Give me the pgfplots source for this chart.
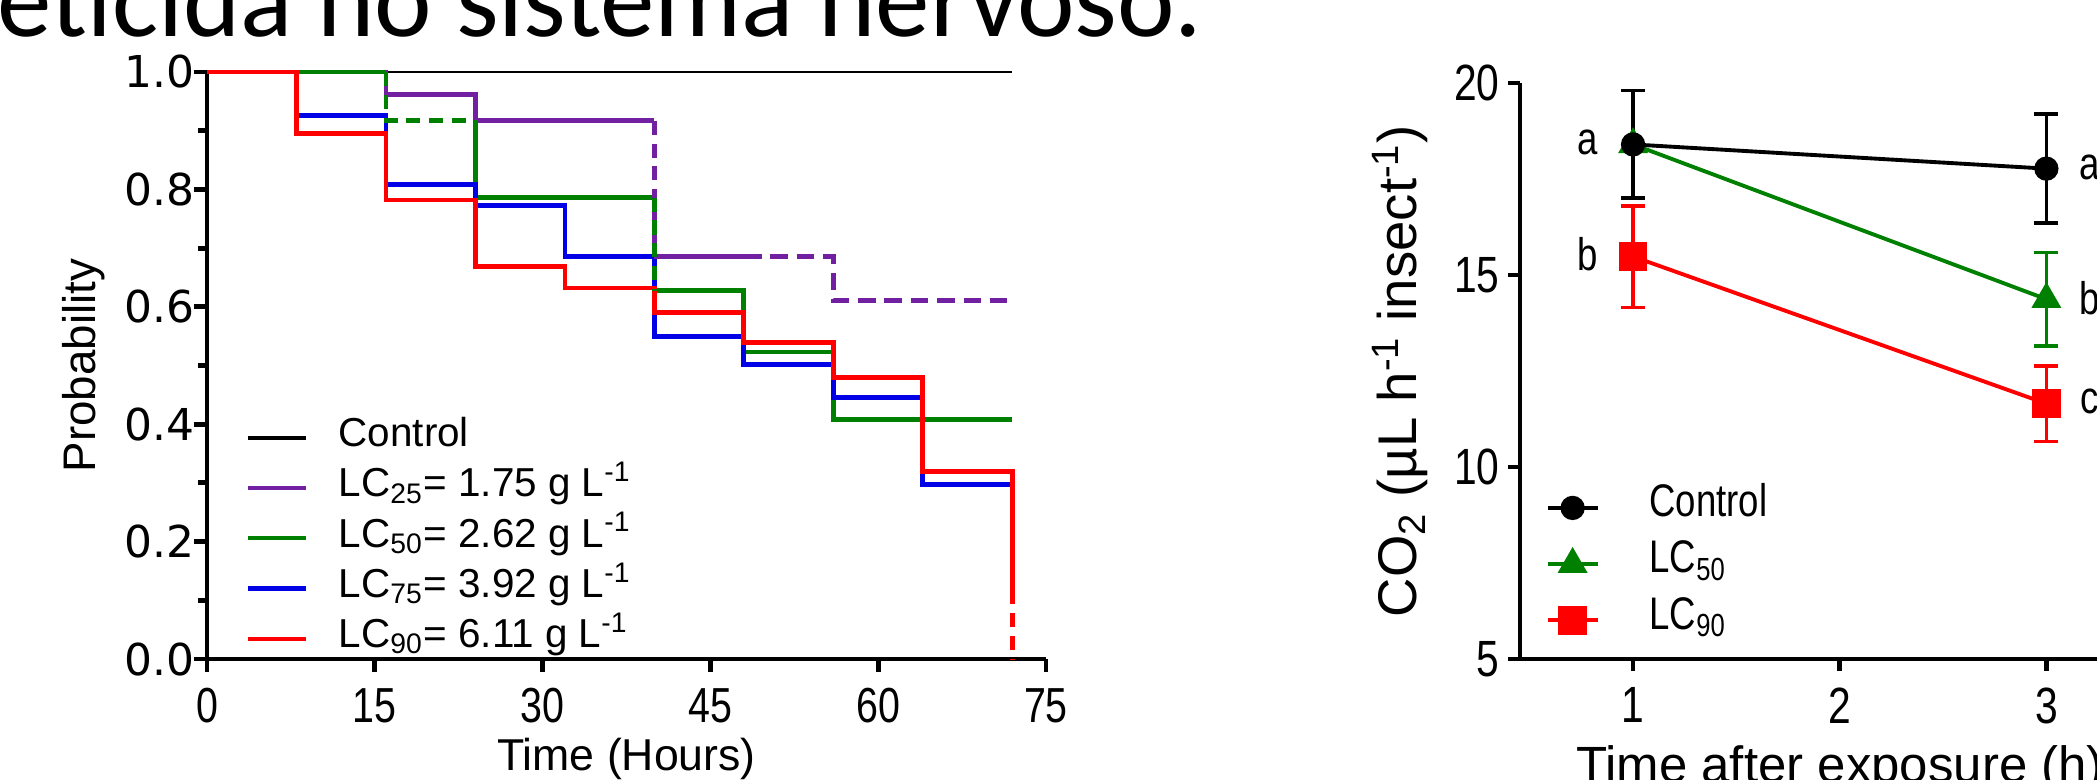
\documentclass[border=0pt]{standalone}
\usepackage{fontspec}
\setmainfont{Liberation Sans}
\newfontfamily\wide{DejaVu Sans}
\newfontfamily\slide{Carlito}
\usepackage{graphicx}
\usepackage{pgfplots}
\pgfplotsset{compat=1.18}

\definecolor{kmpurple}{RGB}{112,32,160}
\definecolor{kmgreen}{RGB}{0,128,0}
\definecolor{kmblue}{RGB}{0,0,230}
\definecolor{kmred}{RGB}{255,0,0}
\newcommand{\fs}[1]{\fontsize{#1}{#1}\selectfont}
\newcommand{\nar}[1]{\scalebox{0.8}[1]{#1}}

\begin{document}
\begin{tikzpicture}
\useasboundingbox (0,0) rectangle (20.97,7.79);
% slide text, cut by the top edge
\node[anchor=base west, inner sep=0pt, font=\slide\fs{31pt}] at (-0.03,7.42) {eticida no sistema nervoso.};

% survival curves
\begin{axis}[
  at={(2.07cm,1.20cm)}, anchor=south west, scale only axis,
  width=8.39cm, height=5.87cm,
  xmin=0, xmax=75, ymin=0, ymax=1,
  axis lines=left, axis line style={-, line width=1.4pt},
  clip=false,
  xtick={0,15,30,45,60,75}, xticklabels={\nar{0},\nar{15},\nar{30},\nar{45},\nar{60},\nar{75}},
  ytick={0,0.2,0.4,0.6,0.8,1}, yticklabels={0.0,0.2,0.4,0.6,0.8,1.0},
  minor ytick={0.1,0.3,0.5,0.7,0.9},
  tick align=outside, major tick length=0.13cm, minor tick length=0.09cm,
  tick style={black, line width=1.4pt},
  minor tick style={black, line width=1.4pt},
  xticklabel style={font=\fs{14pt}, yshift=-0.04cm},
  yticklabel style={font=\wide\fs{12.5pt}, inner sep=1pt, xshift=0.05cm},
  xlabel={Time (Hours)}, ylabel={Probability},
  xlabel style={font=\fs{12.7pt}, at={(axis description cs:0.5,-0.17)}, anchor=center},
  ylabel style={font=\fs{13pt}, at={(axis description cs:-0.147,0.5)}, anchor=center},
  legend style={draw=none, fill=none, at={(axis description cs:0.045,0.408)}, anchor=north west,
    font=\fs{11.5pt}, inner sep=0pt, row sep=4.3pt,
    nodes={inner sep=0pt, text height=0.75em, text depth=0.25em},
    /tikz/every odd column/.style={column sep=0.31cm}},
  legend cell align=left,
  legend image code/.code={\draw[#1, line width=1.2pt] (0cm,0cm) -- (0.58cm,0cm);},
]
\addplot[black, line width=0.8pt] coordinates {(0,1) (72,1)};
\addlegendentry{Control}
\addplot[kmpurple, line width=1.4pt, const plot] coordinates {(0,1) (16,0.962) (24,0.917) (40,0.917)};
\addlegendentry{LC\textsubscript{25}= 1.75 g L\textsuperscript{-1}}
\addplot[kmgreen, line width=1.4pt] coordinates {(0,1) (16,1)};
\addlegendentry{LC\textsubscript{50}= 2.62 g L\textsuperscript{-1}}
\addplot[kmgreen, line width=1.4pt, const plot, forget plot] coordinates {(24,0.918) (24,0.786) (40,0.786)};
\addplot[kmgreen, line width=1.4pt, const plot, forget plot] coordinates {(40,0.627) (48,0.523) (56,0.408) (72,0.408)};
\addplot[kmblue, line width=1.4pt, const plot] coordinates {(0,1) (8,0.926) (16,0.809) (24,0.772) (32,0.685) (40,0.549) (48,0.502) (56,0.445) (64,0.297) (72,0.297)};
\addlegendentry{LC\textsubscript{75}= 3.92 g L\textsuperscript{-1}}
\addplot[kmred, line width=1.4pt, const plot] coordinates {(0,1) (8,0.895) (16,0.782) (24,0.668) (32,0.632) (40,0.590) (48,0.539) (56,0.479) (64,0.320) (72,0.117)};
\addlegendentry{LC\textsubscript{90}= 6.11 g L\textsuperscript{-1}}
% dashed stretches
\addplot[kmpurple, line width=1.4pt, dash pattern=on 4pt off 2.5pt, forget plot] coordinates {(40,0.917) (40,0.685)};
\addplot[kmpurple, line width=1.4pt, forget plot] coordinates {(40,0.685) (48,0.685)};
\addplot[kmpurple, line width=1.4pt, dash pattern=on 5pt off 2.5pt, forget plot] coordinates {(48,0.685) (56,0.685) (56,0.610) (72,0.610)};
\addplot[kmgreen, line width=1.4pt, dash pattern=on 4pt off 2.5pt, forget plot] coordinates {(16,1) (16,0.918) (24,0.918)};
\addplot[kmgreen, line width=1.4pt, dash pattern=on 4pt off 2.5pt, forget plot] coordinates {(40,0.786) (40,0.627)};
\addplot[kmred, line width=1.4pt, dash pattern=on 4pt off 2.5pt, forget plot] coordinates {(72,0.117) (72,0)};
\end{axis}

% CO2 production
\begin{axis}[
  at={(15.20cm,1.20cm)}, anchor=south west, scale only axis,
  width=6.40cm, height=5.76cm,
  xmin=0.453, xmax=3.55, ymin=5, ymax=20,
  axis lines=left, axis line style={-, line width=1.3pt},
  clip=false,
  xtick={1,2,3}, xticklabels={\nar{1},\nar{2},\nar{3}},
  ytick={5,10,15,20}, yticklabels={\nar{5},\nar{10},\nar{15},\nar{20}},
  tick align=outside, major tick length=0.12cm,
  tick style={black, line width=1.3pt},
  ticklabel style={font=\fs{14.5pt}},
  xticklabel style={yshift=-0.04cm},
  yticklabel style={xshift=0.04cm},
  xlabel={Time after exposure (h)},
  ylabel={CO\textsubscript{2} (µL h\textsuperscript{-1} insect\textsuperscript{-1})},
  xlabel style={font=\fs{14.5pt}, at={(axis description cs:0.5,-0.149)}, anchor=north, inner sep=0pt},
  ylabel style={font=\fs{15.5pt}, at={(axis description cs:-0.1875,0.5)}, anchor=center},
  legend style={draw=none, fill=none, at={(axis description cs:0.039,0.294)}, anchor=north west,
    font=\fs{13pt}, inner sep=0pt, row sep=6pt,
    nodes={inner sep=0pt, text height=0.75em, text depth=0.25em},
    /tikz/every odd column/.style={column sep=0.5cm}},
  legend cell align=left, reverse legend,
  legend image code/.code={\draw[#1] (0cm,0cm) -- (0.5cm,0cm);
    \draw[#1] plot coordinates {(0.25cm,0cm)};},
]
\addplot[kmred, line width=1.1pt, mark=square*, mark size=3.5pt,
  error bars/.cd, y dir=both, y explicit,
  error bar style={line width=1pt},
  error mark options={rotate=90, mark size=3.4pt, line width=1pt}]
  coordinates {(1,15.48) +- (0,1.32) (3,11.65) +- (0,0.98)};
\addlegendentry{\nar{LC\textsubscript{90}}}
\addplot[kmgreen, line width=1.1pt, mark=triangle*, mark size=3.8pt,
  error bars/.cd, y dir=both, y explicit,
  error bar style={line width=1pt},
  error mark options={rotate=90, mark size=3.4pt, line width=1pt}]
  coordinates {(1,18.40) +- (0,1.40) (3,14.37) +- (0,1.22)};
\addlegendentry{\nar{LC\textsubscript{50}}}
\addplot[black, line width=1.1pt, mark=*, mark size=2.9pt,
  error bars/.cd, y dir=both, y explicit,
  error bar style={line width=1pt},
  error mark options={rotate=90, mark size=3.4pt, line width=1pt}]
  coordinates {(1,18.40) +- (0,1.40) (3,17.77) +- (0,1.42)};
\addlegendentry{\nar{Control}}
\node[font=\fs{13pt}] at (axis cs:0.78,18.45) {\nar{a}};
\node[font=\fs{13pt}] at (axis cs:0.78,15.55) {\nar{b}};
\node[font=\fs{13pt}] at (axis cs:3.21,17.8) {\nar{a}};
\node[font=\fs{13pt}] at (axis cs:3.21,14.4) {\nar{b}};
\node[font=\fs{13pt}] at (axis cs:3.21,11.7) {\nar{c}};
\end{axis}
\end{tikzpicture}
\end{document}
